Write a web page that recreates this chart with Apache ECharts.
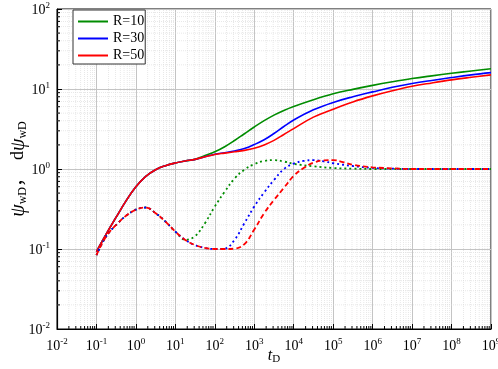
<!DOCTYPE html>
<html>
<head>
<meta charset="utf-8">
<script src="https://cdn.jsdelivr.net/npm/echarts@6/dist/echarts.min.js"></script>
<style>
  html, body { margin: 0; padding: 0; background: #fff; }
  #chart { width: 498px; height: 369px; }
</style>
</head>
<body>
<div id="chart"></div>
<script>
// early time: the three curves coincide
const tShared = [0.1, 0.178, 0.316, 0.562, 1, 1.78, 3.16, 5.62, 10, 17.8, 31.6];
const pShared = [0.093, 0.155, 0.25, 0.4, 0.6, 0.81, 0.98, 1.1, 1.19, 1.26, 1.32];
const tDShared = [0.1, 0.178, 0.316, 0.562, 1, 1.78, 3.16, 5.62, 10, 17.8];
const dShared = [0.084, 0.145, 0.2, 0.26, 0.31, 0.33, 0.28, 0.22, 0.165, 0.13];

// pressure, later time
const tPres = [56.2, 100, 178, 316, 562, 1e3, 1.78e3, 3.16e3, 5.62e3, 1e4, 3.16e4, 1e5, 3.16e5, 1e6, 3.16e6, 1e7, 3.16e7, 1e8, 3.16e8, 1e9];
const pR10 = [1.47, 1.64, 1.9, 2.27, 2.76, 3.35, 4.02, 4.72, 5.4, 6.05, 7.35, 8.7, 9.9, 11.1, 12.3, 13.5, 14.6, 15.7, 16.8, 17.9];
const pR30 = [1.42, 1.53, 1.6, 1.68, 1.8, 2.02, 2.32, 2.78, 3.4, 4.1, 5.5, 6.8, 8.0, 9.2, 10.5, 11.7, 12.8, 13.9, 15.0, 16.0];
const pR50 = [1.42, 1.52, 1.58, 1.64, 1.71, 1.82, 2.0, 2.28, 2.7, 3.2, 4.45, 5.6, 6.9, 8.2, 9.5, 10.8, 11.9, 13.0, 14.0, 15.0];

// derivative, later time
const tD10 = [31.6, 56.2, 100, 178, 316, 562, 1e3, 1.78e3, 3.16e3, 5.62e3, 1e4, 3.16e4, 1e5, 3.16e5, 1e6, 1e7, 1e8, 1e9];
const dR10 = [0.145, 0.21, 0.34, 0.52, 0.76, 0.98, 1.15, 1.26, 1.29, 1.24, 1.16, 1.08, 1.03, 1.01, 1.0, 1.0, 1.0, 1.0];
const tD30 = [31.6, 56.2, 100, 178, 316, 562, 1e3, 1.78e3, 3.16e3, 5.62e3, 1e4, 1.78e4, 3.16e4, 5.62e4, 1e5, 3.16e5, 1e6, 3.16e6, 1e7, 1e8, 1e9];
const dR30 = [0.112, 0.103, 0.1, 0.101, 0.13, 0.21, 0.34, 0.51, 0.73, 1.0, 1.17, 1.26, 1.29, 1.25, 1.18, 1.09, 1.03, 1.01, 1.0, 1.0, 1.0];
const tD50 = [31.6, 56.2, 100, 178, 316, 562, 1e3, 1.78e3, 3.16e3, 5.62e3, 1e4, 1.78e4, 3.16e4, 5.62e4, 1e5, 1.78e5, 3.16e5, 1e6, 3.16e6, 1e7, 1e8, 1e9];
const dR50 = [0.112, 0.103, 0.1, 0.1, 0.101, 0.115, 0.175, 0.28, 0.41, 0.58, 0.82, 1.03, 1.2, 1.28, 1.29, 1.22, 1.13, 1.05, 1.02, 1.0, 1.0, 1.0];

const names = ['R=10', 'R=30', 'R=50'];
const colors = ['#008c00', '#0000ff', '#ff0000'];

const xMin = 1e-2, xMax = 1e9, yMin = 1e-2, yMax = 1e2;

function zip(t, v) {
  return t.map((x, i) => [x, v[i]]);
}

// minor grid positions 2..9 x 10^k
function minors(lo, hi) {
  const out = [];
  for (let e = Math.round(Math.log10(lo)); e < Math.round(Math.log10(hi)); e++) {
    for (let k = 2; k <= 9; k++) out.push(k * Math.pow(10, e));
  }
  return out;
}
const xMinor = minors(xMin, xMax).map(v => [v, yMin]);
const yMinor = minors(yMin, yMax).map(v => [xMin, v]);

const serif = 'Liberation Serif, Noto Sans CJK SC';
const tickRich = {
  b: { fontSize: 14, fontFamily: serif, color: '#000', lineHeight: 16, verticalAlign: 'bottom' },
  s: { fontSize: 9, fontFamily: serif, color: '#000', verticalAlign: 'top', padding: [0, 0, 6, 0] }
};
function powLabel(v) {
  const e = Math.round(Math.log10(v));
  return '{b|10}{s|' + e + '}';
}

const chart = echarts.init(document.getElementById('chart'));

function minorRender(isX) {
  return function (params, api) {
    const x = api.value(0), y = api.value(1);
    let a, b, t2;
    if (isX) {
      a = api.coord([x, yMin]); b = api.coord([x, yMax]);
      t2 = [a[0], a[1] - 3];
    } else {
      a = api.coord([xMin, y]); b = api.coord([xMax, y]);
      t2 = [a[0] + 3, a[1]];
    }
    return {
      type: 'group',
      children: [
        { type: 'line', shape: { x1: a[0], y1: a[1], x2: b[0], y2: b[1] },
          style: { stroke: '#d9d9d9', lineWidth: 0.6, lineDash: [1, 1] } },
        { type: 'line', shape: { x1: a[0], y1: a[1], x2: t2[0], y2: t2[1] },
          style: { stroke: '#000', lineWidth: 1 } }
      ]
    };
  };
}

const series = [
  { type: 'custom', name: 'xminor', data: xMinor, renderItem: minorRender(true), silent: true, z: 1, clip: false },
  { type: 'custom', name: 'yminor', data: yMinor, renderItem: minorRender(false), silent: true, z: 1, clip: false }
];
const pLate = [pR10, pR30, pR50];
const dLate = [[tD10, dR10], [tD30, dR30], [tD50, dR50]];
const dashes = [[2, 3], [2, 3], [5, 3]];
for (let i = 0; i < 3; i++) {
  series.push({
    type: 'line', name: names[i], smooth: 0.4, symbol: 'none', z: 3,
    lineStyle: { color: colors[i], width: 1.6 },
    itemStyle: { color: colors[i] },
    data: zip(tShared, pShared).concat(zip(tPres, pLate[i]))
  });
}
for (let i = 0; i < 3; i++) {
  series.push({
    type: 'line', name: names[i] + ' d', smooth: 0.4, symbol: 'none', z: 3,
    lineStyle: { color: colors[i], width: 1.8, type: dashes[i] },
    data: zip(tDShared, dShared).concat(zip(dLate[i][0], dLate[i][1]))
  });
}

const option = {
  animation: false,
  backgroundColor: '#fff',
  grid: {
    left: 57, right: 7, top: 9, bottom: 40, outerBoundsMode: 'none',
    show: true, borderColor: '#000', borderWidth: 1, backgroundColor: 'transparent'
  },
  legend: {
    data: names, orient: 'vertical', left: 73, top: 10,
    icon: 'rect', itemWidth: 30, itemHeight: 2, itemGap: 2, itemTextGap: 4,
    backgroundColor: '#fff', borderColor: '#333', borderWidth: 1, borderRadius: 0,
    padding: [4, 1, 1, 5],
    textStyle: { fontFamily: serif, fontSize: 14, lineHeight: 15, color: '#000' }
  },
  xAxis: {
    type: 'log', logBase: 10, min: xMin, max: xMax, interval: 1, splitNumber: 11,
    axisLine: { onZero: false, lineStyle: { color: '#000', width: 1.2 } },
    axisTick: { inside: true, length: 5, lineStyle: { color: '#000' } },
    axisLabel: { formatter: powLabel, rich: tickRich, margin: 8, showMinLabel: true, showMaxLabel: true },
    splitLine: { show: true, lineStyle: { color: '#c4c4c4', width: 1 } },
    name: '{i|t}{sub|D}', nameLocation: 'middle', nameGap: 19, nameMoveOverlap: false,
    nameTextStyle: {
      rich: {
        i: { fontSize: 16, fontFamily: serif, fontStyle: 'italic', color: '#000', verticalAlign: 'top' },
        sub: { fontSize: 11, fontFamily: serif, color: '#000', verticalAlign: 'bottom', padding: [6, 0, 0, 0] }
      }
    }
  },
  yAxis: {
    type: 'log', logBase: 10, min: yMin, max: yMax, interval: 1, splitNumber: 4,
    axisLine: { onZero: false, lineStyle: { color: '#000', width: 1.2 } },
    axisTick: { inside: true, length: 5, lineStyle: { color: '#000' } },
    axisLabel: { formatter: powLabel, rich: tickRich, margin: 7, showMinLabel: true, showMaxLabel: true },
    splitLine: { show: true, lineStyle: { color: '#c4c4c4', width: 1 } },
    name: '{i|ψ}{sub|wD}{n|，  d}{i|ψ}{sub|wD}', nameLocation: 'middle', nameGap: 28, nameMoveOverlap: false,
    nameTextStyle: {
      rich: {
        i: { fontSize: 20, fontFamily: serif, fontStyle: 'italic', color: '#000', verticalAlign: 'top' },
        n: { fontSize: 18, fontFamily: serif, color: '#000', verticalAlign: 'top' },
        sub: { fontSize: 12, fontFamily: serif, color: '#000', verticalAlign: 'bottom', padding: [8, 0, 0, 0] }
      }
    }
  },
  series: series
};
chart.setOption(option);
</script>
</body>
</html>
